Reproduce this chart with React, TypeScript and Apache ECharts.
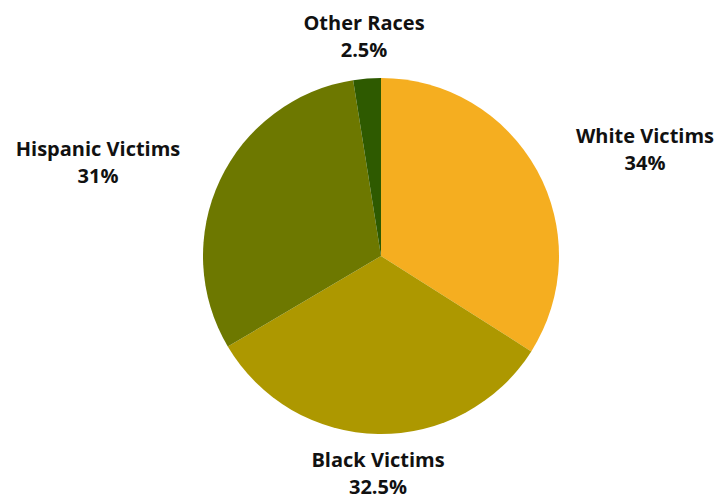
import React, { useEffect, useRef } from "react";
import * as echarts from "echarts";

const categories = ["White Victims", "Black Victims", "Hispanic Victims", "Other Races"];
const values = [34, 32.5, 31, 2.5];
const colors = ["#F5AE20", "#AD9800", "#6D7800", "#2E5A00"];
// label centre positions (px)
const labelX = [645, 378, 98, 364];
const labelY = [149, 473, 162, 36];

export default function App() {
  const ref = useRef<HTMLDivElement>(null);
  useEffect(() => {
    if (!ref.current) return;
    const chart = echarts.init(ref.current, null, { renderer: "svg" });
    chart.setOption({
      animation: false,
      backgroundColor: "#ffffff",
      series: [
        {
          type: "pie",
          center: [381, 256],
          radius: 178,
          startAngle: 90,
          clockwise: true,
          data: categories.map((c, i) => ({
            name: c,
            value: values[i],
            itemStyle: { color: colors[i] },
          })),
          itemStyle: { borderWidth: 0 },
          label: {
            show: true,
            position: "outside",
            formatter: (p: any) => `${p.name}\n${p.value}%`,
            fontFamily: "Open Sans",
            fontWeight: "bold",
            fontSize: 20,
            lineHeight: 27,
            color: "#111111",
            align: "center",
            overflow: "none",
            edgeDistance: 0,
          },
          labelLine: { show: false },
          labelLayout: (params: any) => ({
            x: labelX[params.dataIndex],
            y: labelY[params.dataIndex],
            align: "center",
            verticalAlign: "middle",
          }),
          emphasis: { disabled: true },
        },
      ],
    });
    return () => chart.dispose();
  }, []);
  return (
    <div
      ref={ref}
      style={{ position: "fixed", left: 0, top: 0, width: 723, height: 500 }}
    />
  );
}
